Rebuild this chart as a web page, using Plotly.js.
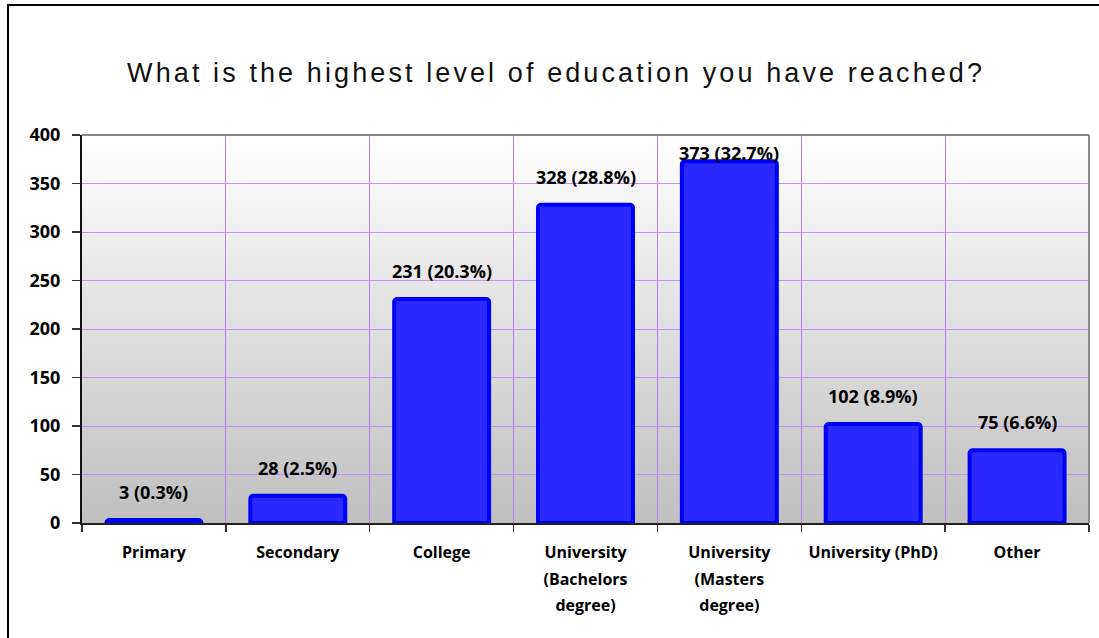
<!DOCTYPE html>
<html>
<head>
<meta charset="utf-8">
<script src="https://cdn.plot.ly/plotly-3.0.1.min.js"></script>
<style>
  html, body { margin: 0; padding: 0; background: #fff; }
  #wrap { position: relative; width: 1099px; height: 638px; overflow: hidden; }
  #chart { width: 1099px; height: 638px; }
  #frame { position: absolute; left: 7px; top: 4px; width: 1200px; height: 800px;
           border-left: 2px solid #000; border-top: 2px solid #000; pointer-events: none; }
  .gtitle { letter-spacing: 3.1px; }
</style>
</head>
<body>
<div id="wrap">
  <div id="chart"></div>
  <div id="frame"></div>
</div>
<script>
// ---- data ----
const categories = ["Primary", "Secondary", "College", "University<br>(Bachelors<br>degree)",
                    "University<br>(Masters<br>degree)", "University (PhD)", "Other"];
const counts = [3, 28, 231, 328, 373, 102, 75];
const percents = ["0.3%", "2.5%", "20.3%", "28.8%", "32.7%", "8.9%", "6.6%"];
const yTicks = [0, 50, 100, 150, 200, 250, 300, 350, 400];
const chartTitle = "What is the highest level of education you have reached?";

const labels = counts.map((c, i) => c + " (" + percents[i] + ")");
const yMax = 400;

const bgSvg = '<svg xmlns="http://www.w3.org/2000/svg" width="100" height="100" preserveAspectRatio="none">' +
  '<defs><linearGradient id="g" x1="0" y1="0" x2="0" y2="1">' +
  '<stop offset="0" stop-color="#ffffff"/><stop offset="1" stop-color="#bfbfbf"/>' +
  '</linearGradient></defs><rect width="100" height="100" fill="url(#g)"/></svg>';
const bgUri = "data:image/svg+xml;base64," + btoa(bgSvg);

const labelFont = { family: "Open Sans", size: 18, color: "#000", weight: "bold" };

const trace = {
  type: "bar",
  x: categories,
  y: counts,
  marker: { color: "#2828ff", line: { color: "#0000f5", width: 4 }, cornerradius: 3 },
  hoverinfo: "x+y"
};

// labels sit above bars; a label that would leave the plot area is pulled inside (as Excel does)
const annotations = categories.map((c, i) => {
  const tooHigh = counts[i] > yMax * 0.9;
  return tooHigh
    ? { x: c, y: yMax, xref: "x", yref: "y", text: labels[i], showarrow: false,
        yanchor: "top", yshift: -4, font: labelFont }
    : { x: c, y: counts[i], xref: "x", yref: "y", text: labels[i], showarrow: false,
        yanchor: "bottom", yshift: 14, font: labelFont };
});

const layout = {
  width: 1099, height: 638,
  margin: { l: 82, r: 10, t: 135, b: 115 },
  paper_bgcolor: "rgba(0,0,0,0)",
  plot_bgcolor: "rgba(0,0,0,0)",
  showlegend: false,
  bargap: 0.34,
  title: {
    text: chartTitle,
    font: { family: "Liberation Sans", size: 27, color: "#111" },
    x: 0.506, xref: "container", xanchor: "center",
    y: 0.887, yref: "container", yanchor: "middle"
  },
  xaxis: {
    type: "category",
    tickson: "boundaries",
    tickangle: 0,
    ticks: "outside", ticklen: 7, tickcolor: "#333", tickwidth: 1.5,
    showgrid: true, gridcolor: "#b77ef2", gridwidth: 1,
    showline: true, linecolor: "#222", linewidth: 2,
    tickfont: { family: "Open Sans", size: 16, color: "#000", weight: "bold" },
    ticklabelstandoff: 14,
    fixedrange: true
  },
  yaxis: {
    range: [0, yMax],
    tickvals: yTicks,
    ticktext: yTicks.map(String),
    ticks: "outside", ticklen: 8, tickcolor: "#333", tickwidth: 1.5,
    showgrid: true, gridcolor: "#c590f5", gridwidth: 1,
    zeroline: false,
    showline: true, linecolor: "#111", linewidth: 2,
    tickfont: { family: "Open Sans", size: 18, color: "#000", weight: "bold" },
    ticklabelstandoff: 8,
    fixedrange: true
  },
  images: [{
    source: bgUri, xref: "paper", yref: "paper",
    x: 0, y: 1, sizex: 1, sizey: 1, sizing: "stretch",
    xanchor: "left", yanchor: "top", layer: "below"
  }],
  shapes: [
    { type: "line", xref: "paper", yref: "paper", x0: 0, x1: 1, y0: 1, y1: 1,
      line: { color: "#888", width: 2 } },
    { type: "line", xref: "paper", yref: "paper", x0: 1, x1: 1, y0: 0, y1: 1,
      line: { color: "#888", width: 2 } }
  ],
  annotations: annotations
};

Plotly.newPlot("chart", [trace], layout, { displayModeBar: false, staticPlot: true }).then(() => {
  // widen the line spacing of the multi-line category labels (Excel uses ~1.65 em)
  document.querySelectorAll("#chart .xtick text tspan.line").forEach(t => {
    const dy = t.getAttribute("dy");
    if (dy && dy.endsWith("em")) {
      t.setAttribute("dy", (parseFloat(dy) * 1.27) + "em");
    }
  });
});
</script>
</body>
</html>
